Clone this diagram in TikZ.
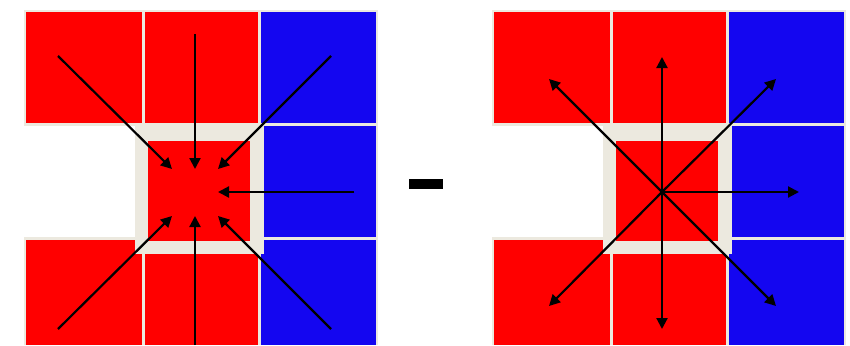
\documentclass[tikz,border=0pt]{standalone}
\usetikzlibrary{arrows.meta}
\definecolor{beige}{HTML}{ECE9DF}
\definecolor{cred}{HTML}{FF0000}
\definecolor{cblue}{HTML}{1406F0}
\tikzset{
  arrowline/.style={draw=black,line width=2.2pt,-{Triangle[length=11pt,width=11pt]}},
  redcell/.style={fill=cred,draw=none},
  bluecell/.style={fill=cblue,draw=none},
  blackshape/.style={fill=black,draw=none}
}
\newcommand{\cellpanel}[1]{%
\begin{scope}[xshift=#1pt]
  \fill[beige] (24,10) rectangle (378,345);
  \fill[white] (24,126) rectangle (135,237);
  % top row
  \fill[redcell] (26,12) rectangle (142,123);
  \fill[redcell] (145,12) rectangle (258,123);
  \fill[bluecell] (261,12) rectangle (376,123);
  % middle row
  \fill[bluecell] (264,126) rectangle (376,237);
  \fill[redcell] (148,141) rectangle (250,241);
  % bottom row
  \fill[redcell] (26,240) rectangle (135,345);
  \fill[redcell] (26,254) rectangle (142,345);
  \fill[redcell] (145,254) rectangle (258,345);
  \fill[bluecell] (264,240) rectangle (376,254);
  \fill[bluecell] (261,254) rectangle (376,345);
\end{scope}}
\newcommand{\swordcross}[3]{%
\begin{scope}[shift={(#1pt,#2pt)}]
  \fill[blackshape] (-0.6,0) .. controls (-2,-3) and (-3.4,-5) .. (-3.4,-8) .. controls (-3.4,-12) and (3.4,-12) .. (3.4,-8) .. controls (3.4,-5) and (2,-3) .. (0.6,0) -- cycle;
  \fill[blackshape] (0,-0.6) .. controls (-3,-2) and (-5,-3.2) .. (-7.5,-3.2) .. controls (-11,-3.2) and (-11,3.2) .. (-7.5,3.2) .. controls (-5,3.2) and (-3,2) .. (0,0.6) -- cycle;
  \fill[blackshape] (0,-0.6) .. controls (3,-2) and (5,-3.2) .. (7.5,-3.2) .. controls (11,-3.2) and (11,3.2) .. (7.5,3.2) .. controls (5,3.2) and (3,2) .. (0,0.6) -- cycle;
  \fill[blackshape] (0,1.5) .. controls (-1.5,3) and (-3,5) .. (-2.6,8) .. controls (-2,14) and (-1,24) .. (-0.6,#3) -- (0.6,#3) .. controls (1,24) and (2,14) .. (2.6,8) .. controls (3,5) and (1.5,3) .. (0,1.5) -- cycle;
\end{scope}}
\begin{document}
\begin{tikzpicture}[x=1pt,y=-1pt]
\useasboundingbox (0,0) rectangle (850,345);
\fill[white] (0,0) rectangle (850,345);
\cellpanel{0}
\cellpanel{468}
\swordcross{57}{168}{32}
\swordcross{530}{160}{32}
\fill[blackshape] (409,179) rectangle (443,189);
% left panel: arrows in
\coordinate (lA) at (58,56);   \coordinate (lAe) at (172,169);
\coordinate (lB) at (195,34);  \coordinate (lBe) at (195,169);
\coordinate (lC) at (331,56);  \coordinate (lCe) at (218,169);
\coordinate (lD) at (354,192); \coordinate (lDe) at (218,192);
\coordinate (lE) at (58,329);  \coordinate (lEe) at (172,216);
\coordinate (lF) at (195,345); \coordinate (lFe) at (195,216);
\coordinate (lG) at (331,329); \coordinate (lGe) at (218,216);
\foreach \n in {A,B,C,D,E,F,G} \draw[arrowline] (l\n) -- (l\n e);
% right panel: arrows out
\coordinate (rO) at (662,192);
\coordinate (rA) at (549,79);
\coordinate (rB) at (662,57);
\coordinate (rC) at (776,79);
\coordinate (rD) at (799,192);
\coordinate (rE) at (776,306);
\coordinate (rF) at (662,329);
\coordinate (rG) at (549,306);
\foreach \n in {A,B,C,D,E,F,G} \draw[arrowline] (rO) -- (r\n);
\end{tikzpicture}
\end{document}
